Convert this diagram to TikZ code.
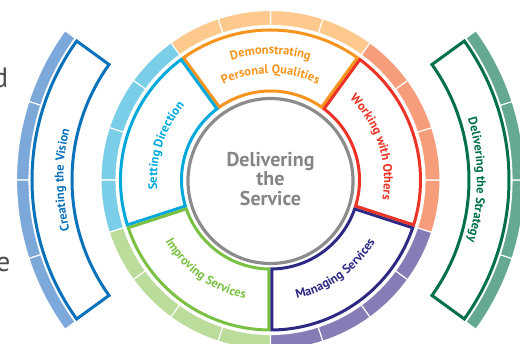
\documentclass[tikz,border=0pt]{standalone}
\usepackage{fontspec}
\setmainfont{PT Sans}
\usetikzlibrary{decorations.text}

\definecolor{orangeD}{HTML}{F7941D}
\definecolor{orangeL}{HTML}{FDC98C}
\definecolor{cyanD}{HTML}{00A9DC}
\definecolor{cyanL}{HTML}{7BCEE8}
\definecolor{greenD}{HTML}{7AC143}
\definecolor{greenL}{HTML}{BBDC9B}
\definecolor{purpD}{HTML}{2E2A84}
\definecolor{purpL}{HTML}{877DB6}
\definecolor{redD}{HTML}{EC3325}
\definecolor{redL}{HTML}{F69D7C}
\definecolor{blueD}{HTML}{0A72BA}
\definecolor{blueL}{HTML}{7DA8DA}
\definecolor{dgreenD}{HTML}{00704A}
\definecolor{dgreenL}{HTML}{66A993}
\definecolor{greyC}{HTML}{8C8C8C}
\definecolor{greyT}{HTML}{858585}
\definecolor{inkT}{HTML}{4A4A4A}

\newcommand\labelfont{\bfseries\fontsize{12.5}{14}\selectfont}
% annular sector: start angle, end angle, inner radius, outer radius
\newcommand\ringpath[4]{({#1}:#3) arc[start angle={#1}, end angle={#2}, radius=#3] -- ({#2}:#4) arc[start angle={#2}, end angle={#1}, radius=#4] -- cycle}

\begin{document}
\begin{tikzpicture}[x=1pt,y=1pt,
  cell/.style={fill=#1, draw=white, line width=1.1pt},
  rim/.style={draw=#1, line width=6pt},
  arclabel/.style 2 args={decorate, decoration={text along path, text align=center, text color=#1, text={|\labelfont|#2}}}]
\useasboundingbox (-270.5,-164) rectangle (249.5,180);
\clip (-270.5,-164) rectangle (249.5,180);

%Shape: outer bands of the ring
\foreach \a/\lt in {54/orangeL,126/cyanL,198/greenL,270/purpL,342/redL}{
  \foreach \k in {0,18,36,54}{
    \path[cell=\lt] \ringpath{\a+\k}{\a+\k+18}{154.5}{169.5};
  }
}
%Shape: outer bands of the two side arcs
\foreach \a/\lt in {144/blueL,-36/dgreenL}{
  \foreach \k in {0,18,36,54}{
    \path[cell=\lt] \ringpath{\a+\k}{\a+\k+18}{241.5}{254};
  }
}

%Shape: the five ring segments and the two side arcs
\foreach \a/\b/\ri/\ro/\dk in {54/126/87.5/151.5/orangeD,126/198/87.5/151.5/cyanD,198/270/87.5/151.5/greenD,270/342/87.5/151.5/purpD,-18/54/87.5/151.5/redD,144/216/197/240/blueD,-36/36/197/240/dgreenD}{
  \begin{scope}
    \clip \ringpath{\a}{\b}{\ri}{\ro};
    \path[rim=\dk] \ringpath{\a}{\b}{\ri}{\ro};
  \end{scope}
}

%Shape: Circle
\draw[greyC, line width=3.2pt] (0,-1) circle[radius=82.5];

% Text Node
\node[name=core, align=center, text=greyT, font=\bfseries\fontsize{20}{19.5}\selectfont] at (0,1) {Delivering\\the\\Service};

% Text along the arcs
\path[arclabel={orangeD}{Demonstrating}] (126:126) arc[start angle=126, end angle=54, radius=126];
\path[arclabel={orangeD}{Personal Qualities}] (126:106.5) arc[start angle=126, end angle=54, radius=106.5];
\path[arclabel={cyanD}{Setting Direction}] (198:113.5) arc[start angle=198, end angle=126, radius=113.5];
\path[arclabel={redD}{Working with Others}] (54:113.5) arc[start angle=54, end angle=-18, radius=113.5];
\path[arclabel={greenD}{Improving Services}] (198:121.5) arc[start angle=198, end angle=270, radius=121.5];
\path[arclabel={purpD}{Managing Services}] (270:121.5) arc[start angle=270, end angle=342, radius=121.5];
\path[arclabel={blueD}{Creating the Vision}] (216:207) arc[start angle=216, end angle=144, radius=207];
\path[arclabel={dgreenD}{Delivering the Strategy}] (36:206.5) arc[start angle=36, end angle=-36, radius=206.5];

% Text Node
\node[name=cutd, anchor=base east, inner sep=0pt, text=inkT, font=\fontsize{28}{30}\selectfont] at (-262,92) {d};
% Text Node
\node[name=cute, anchor=base east, inner sep=0pt, text=inkT, font=\fontsize{28}{30}\selectfont] at (-260,-92) {e};
\end{tikzpicture}
\end{document}
